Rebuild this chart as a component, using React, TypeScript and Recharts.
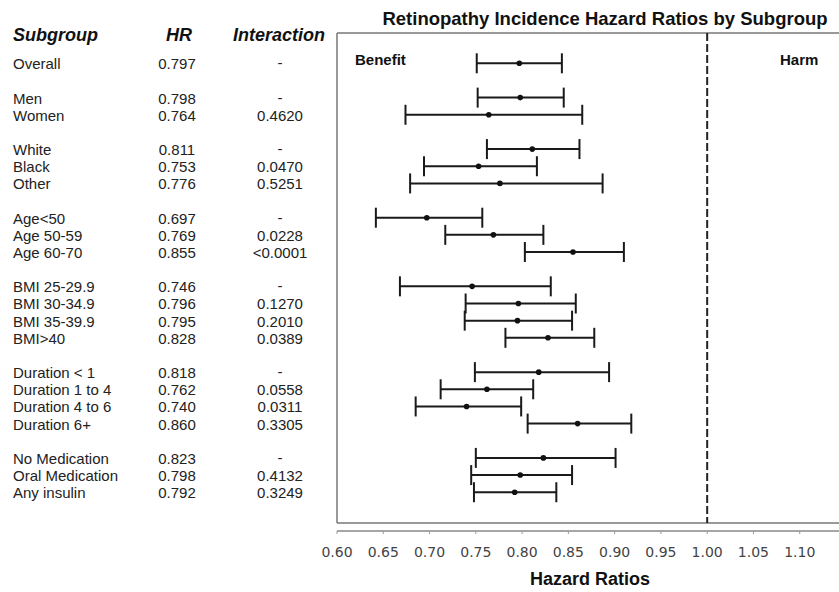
import React from "react";
import {
  ComposedChart,
  Scatter,
  ErrorBar,
  XAxis,
  YAxis,
  ReferenceLine,
} from "recharts";

// ---- data ----
const SUBGROUPS = [
  "Overall",
  "Men",
  "Women",
  "White",
  "Black",
  "Other",
  "Age<50",
  "Age 50-59",
  "Age 60-70",
  "BMI 25-29.9",
  "BMI 30-34.9",
  "BMI 35-39.9",
  "BMI>40",
  "Duration < 1",
  "Duration 1 to 4",
  "Duration 4 to 6",
  "Duration 6+",
  "No Medication",
  "Oral Medication",
  "Any insulin",
];
// row slot (gaps separate the groups)
const SLOTS = [0, 2, 3, 5, 6, 7, 9, 10, 11, 13, 14, 15, 16, 18, 19, 20, 21, 23, 24, 25];
const HR = [
  0.797, 0.798, 0.764, 0.811, 0.753, 0.776, 0.697, 0.769, 0.855, 0.746, 0.796,
  0.795, 0.828, 0.818, 0.762, 0.74, 0.86, 0.823, 0.798, 0.792,
];
const INTERACTION = [
  "-",
  "-",
  "0.4620",
  "-",
  "0.0470",
  "0.5251",
  "-",
  "0.0228",
  "<0.0001",
  "-",
  "0.1270",
  "0.2010",
  "0.0389",
  "-",
  "0.0558",
  "0.0311",
  "0.3305",
  "-",
  "0.4132",
  "0.3249",
];
const CI_LOW = [
  0.751, 0.752, 0.674, 0.762, 0.694, 0.679, 0.642, 0.717, 0.803, 0.668, 0.739,
  0.738, 0.782, 0.749, 0.712, 0.685, 0.806, 0.75, 0.745, 0.748,
];
const CI_HIGH = [
  0.843, 0.845, 0.865, 0.862, 0.816, 0.887, 0.757, 0.823, 0.91, 0.831, 0.858,
  0.854, 0.878, 0.894, 0.812, 0.799, 0.918, 0.901, 0.854, 0.837,
];
const X_TICKS = [0.6, 0.65, 0.7, 0.75, 0.8, 0.85, 0.9, 0.95, 1.0, 1.05, 1.1];

// ---- layout constants ----
const X_MIN = 0.6;
const X_MAX = 1.15;
const Y_MIN = -1.766;
const Y_MAX = 27.26;
const BOX_BOTTOM = 26.8;
const FONT = "'Liberation Sans', Arial, Helvetica, sans-serif";

const rows = SUBGROUPS.map((name, i) => ({
  name,
  slot: SLOTS[i],
  hr: HR[i],
  hrLabel: HR[i].toFixed(3),
  inter: INTERACTION[i],
  err: [HR[i] - CI_LOW[i], CI_HIGH[i] - HR[i]],
}));

const RowTick = (props: any) => {
  const { y, payload } = props;
  const row = rows.find((r) => r.slot === payload.value);
  if (!row) return null;
  const ty = y + 6;
  return (
    <g fontFamily={FONT} fontSize={15} fill="#222">
      <text x={13} y={ty} textAnchor="start">
        {row.name}
      </text>
      <text x={177} y={ty} textAnchor="middle">
        {row.hrLabel}
      </text>
      <text x={280} y={row.inter === "-" ? ty - 1 : ty} textAnchor="middle">
        {row.inter}
      </text>
    </g>
  );
};

const Dot = (props: any) => {
  const { cx, cy } = props;
  return <circle cx={cx} cy={cy} r={2.8} fill="#111" />;
};

export default function App() {
  return (
    <div
      style={{
        position: "absolute",
        left: 0,
        top: 0,
        width: 839,
        height: 592,
        overflow: "hidden",
        background: "#fff",
      }}
    >
      <ComposedChart
        width={860}
        height={592}
        data={rows}
        margin={{ top: 33, right: 14, bottom: 0, left: 0 }}
      >
        <XAxis
          type="number"
          dataKey="hr"
          domain={[X_MIN, X_MAX]}
          ticks={X_TICKS}
          interval={0}
          allowDataOverflow
          height={61}
          tickSize={3}
          tickMargin={13}
          tickFormatter={(v: number) => v.toFixed(2)}
          tick={{ fontFamily: "'DejaVu Sans', sans-serif", fontSize: 14, fill: "#444" }}
          axisLine={{ stroke: "#888", strokeWidth: 1.5 }}
          tickLine={{ stroke: "#999", strokeWidth: 1 }}
        />
        <YAxis
          type="number"
          dataKey="slot"
          domain={[Y_MIN, Y_MAX]}
          reversed
          allowDataOverflow
          ticks={SLOTS}
          interval={0}
          width={337}
          axisLine={false}
          tickLine={false}
          tick={<RowTick />}
        />
        <ReferenceLine
          segment={[
            { x: X_MIN, y: Y_MIN },
            { x: X_MAX, y: Y_MIN },
          ]}
          stroke="#777"
          strokeWidth={1.5}
          ifOverflow="visible"
        />
        <ReferenceLine
          segment={[
            { x: X_MIN, y: Y_MIN },
            { x: X_MIN, y: BOX_BOTTOM },
          ]}
          stroke="#777"
          strokeWidth={1.5}
          ifOverflow="visible"
        />
        <ReferenceLine
          segment={[
            { x: X_MIN, y: BOX_BOTTOM },
            { x: X_MAX, y: BOX_BOTTOM },
          ]}
          stroke="#777"
          strokeWidth={1.5}
          ifOverflow="visible"
        />
        <ReferenceLine
          segment={[
            { x: 1.0, y: Y_MIN },
            { x: 1.0, y: BOX_BOTTOM },
          ]}
          stroke="#222"
          strokeWidth={2}
          strokeDasharray="8 3"
          ifOverflow="visible"
        />
        <Scatter
          dataKey="slot"
          isAnimationActive={false}
          shape={<Dot />}
        >
          <ErrorBar
            dataKey="err"
            direction="x"
            width={10}
            stroke="#1a1a1a"
            strokeWidth={2}
            isAnimationActive={false}
          />
        </Scatter>
      </ComposedChart>
      <svg
        width={839}
        height={592}
        style={{ position: "absolute", left: 0, top: 0, pointerEvents: "none" }}
      >
        <g fontFamily={FONT} fill="#111">
          <text x={605} y={25} textAnchor="middle" fontWeight="bold" fontSize={18.5}>
            Retinopathy Incidence Hazard Ratios by Subgroup
          </text>
          <text x={13} y={41} fontWeight="bold" fontStyle="italic" fontSize={18}>
            Subgroup
          </text>
          <text x={179} y={41} textAnchor="middle" fontWeight="bold" fontStyle="italic" fontSize={18}>
            HR
          </text>
          <text x={279} y={41} textAnchor="middle" fontWeight="bold" fontStyle="italic" fontSize={18}>
            Interaction
          </text>
          <text x={355} y={65} fontWeight="bold" fontSize={15}>
            Benefit
          </text>
          <text x={780} y={65} fontWeight="bold" fontSize={15}>
            Harm
          </text>
          <text x={590} y={585} textAnchor="middle" fontWeight="bold" fontSize={18}>
            Hazard Ratios
          </text>
        </g>
      </svg>
    </div>
  );
}
